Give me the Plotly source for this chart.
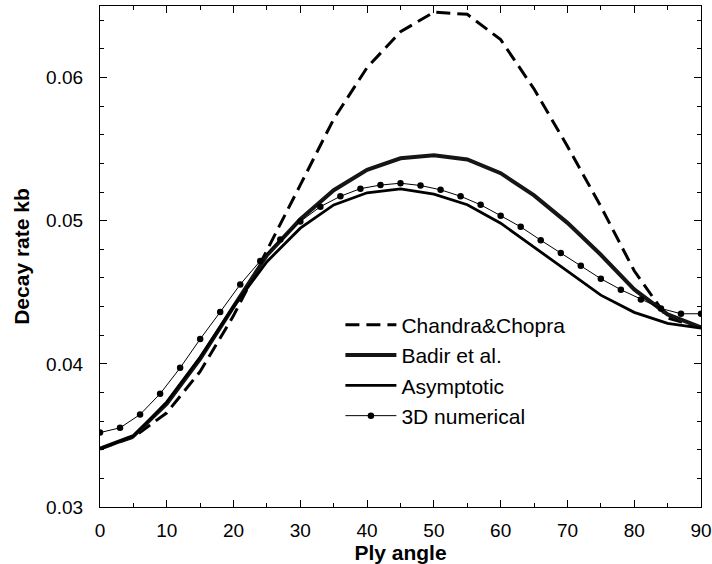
import plotly.graph_objects as go

angles5 = [0, 5, 10, 15, 20, 25, 30, 35, 40, 45, 50, 55, 60, 65, 70, 75, 80, 85, 90]
chandra = [0.03407, 0.03487, 0.03658, 0.03947, 0.04337, 0.04789, 0.05250, 0.05710, 0.0607,
           0.06320, 0.06457, 0.06442, 0.06265, 0.05920, 0.05520, 0.05100, 0.04650, 0.04320, 0.04255]
badir = [0.03407, 0.03495, 0.03721, 0.04035, 0.0440, 0.04759, 0.0501, 0.05213, 0.05355,
         0.05436, 0.05458, 0.05428, 0.05332, 0.05177, 0.04985, 0.04762, 0.04520, 0.04345, 0.04255]
asymptotic = [0.03407, 0.03495, 0.03734, 0.04048, 0.0440, 0.04714, 0.04948, 0.05110, 0.05195,
              0.05222, 0.05185, 0.05112, 0.04983, 0.04815, 0.04645, 0.04480, 0.04360, 0.04283, 0.04250]

angles3 = list(range(0, 91, 3))
numerical = [0.0352, 0.03553, 0.03646, 0.03791, 0.03972, 0.04173, 0.04362, 0.04555, 0.04719,
             0.04869, 0.04995, 0.05098, 0.05171, 0.05224, 0.05249, 0.05262, 0.05246, 0.05216,
             0.05171, 0.05111, 0.05035, 0.04957, 0.04864, 0.04774, 0.04686, 0.04595, 0.04518,
             0.0445, 0.04387, 0.04350, 0.04350]

FONT = "Liberation Sans, Arial, Helvetica, sans-serif"

fig = go.Figure()
fig.add_trace(go.Scatter(x=angles5, y=chandra, mode="lines", name="Chandra&Chopra",
                         line=dict(color="black", width=3, dash="14px,7px")))
fig.add_trace(go.Scatter(x=angles5, y=badir, mode="lines", name="Badir et al.",
                         line=dict(color="#151515", width=4)))
fig.add_trace(go.Scatter(x=angles5, y=asymptotic, mode="lines", name="Asymptotic",
                         line=dict(color="black", width=2.8)))
fig.add_trace(go.Scatter(x=angles3, y=numerical, mode="lines+markers", name="3D numerical",
                         line=dict(color="black", width=1),
                         marker=dict(color="black", size=6.5)))

fig.update_layout(
    width=712, height=564,
    margin=dict(l=100, r=11, t=6, b=57, autoexpand=False),
    paper_bgcolor="white", plot_bgcolor="white",
    font=dict(family=FONT, color="black", size=19),
    showlegend=True,
    legend=dict(x=0.400, y=0.404, xanchor="left", yanchor="top",
                bgcolor="rgba(0,0,0,0)", font=dict(size=21, family=FONT),
                tracegroupgap=0, itemwidth=51, traceorder="normal"),
)
fig.update_xaxes(
    range=[0, 90], tickmode="array", tickvals=[0, 10, 20, 30, 40, 50, 60, 70, 80, 90],
    ticks="inside", ticklen=7, tickcolor="black", tickwidth=1,
    minor=dict(tickvals=[5, 15, 25, 35, 45, 55, 65, 75, 85], ticks="inside", ticklen=4,
               tickcolor="black"),
    showline=True, linecolor="black", linewidth=1.2, mirror="ticks",
    showgrid=False, zeroline=False, ticklabelstandoff=6, automargin=False,
    title=dict(text="<b>Ply angle</b>", font=dict(size=21, family=FONT), standoff=6),
)
fig.update_yaxes(
    range=[0.03, 0.065], tickmode="array", tickvals=[0.03, 0.04, 0.05, 0.06],
    ticktext=["0.03", "0.04", "0.05", "0.06"],
    ticks="inside", ticklen=7, tickcolor="black", tickwidth=1,
    minor=dict(tickvals=[0.032, 0.034, 0.036, 0.038, 0.042, 0.044, 0.046, 0.048,
                         0.052, 0.054, 0.056, 0.058, 0.062, 0.064],
               ticks="inside", ticklen=4, tickcolor="black"),
    showline=True, linecolor="black", linewidth=1.2, mirror="ticks",
    showgrid=False, zeroline=False, ticklabelstandoff=12, automargin=False,
    title=dict(text="<b>Decay rate kb</b>", font=dict(size=21, family=FONT), standoff=10),
)

fig.write_html("out.html")
